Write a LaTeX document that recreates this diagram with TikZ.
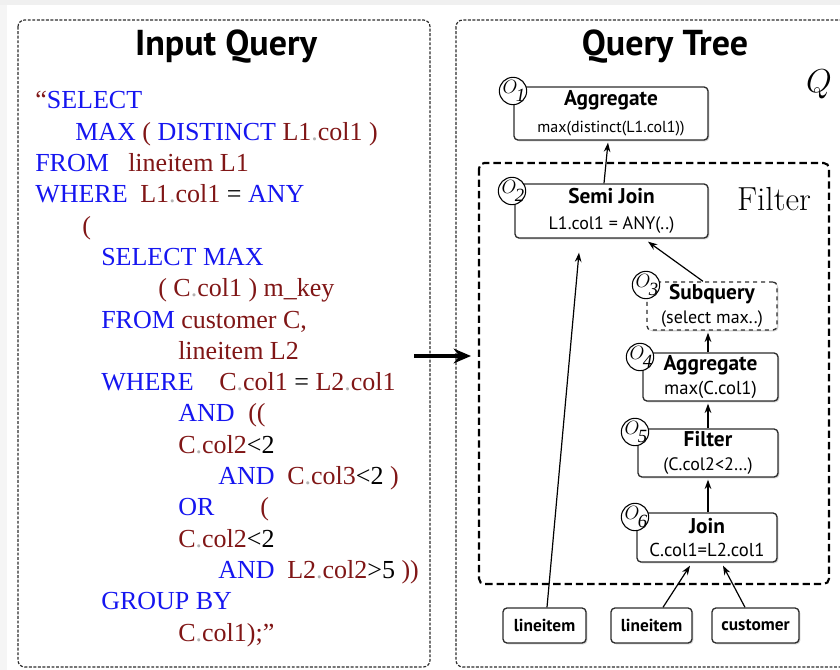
\documentclass[tikz,border=0pt]{standalone}
\usepackage{fontspec}
\usetikzlibrary{arrows.meta,shadows,calc}
\newfontfamily\sqlfont{Liberation Serif}
\newfontfamily\uifont{PT Sans}
\definecolor{kwblue}{RGB}{22,22,240}
\definecolor{idred}{RGB}{128,22,22}
\definecolor{frame}{RGB}{45,45,45}
\newcommand\kw[1]{\textcolor{kwblue}{#1}}
\newcommand\vr[1]{\textcolor{idred}{#1}}
\newcommand\sqldot{\textcolor{black!30}{.}}
\newcommand\optitle[1]{\textbf{\fontsize{16}{19}\selectfont #1}}

\tikzset{
  sql/.style={anchor=base west, inner sep=0pt, font=\sqlfont\fontsize{19.5}{22}\selectfont},
  panel/.style={draw=frame, line width=0.9pt, dash pattern=on 2.2pt off 1.2pt, rounded corners=5pt},
  filterbox/.style={draw=black, line width=1.6pt, dash pattern=on 5.5pt off 3pt, rounded corners=4pt},
  opbox/.style={draw=frame, line width=1pt, rounded corners=3pt, fill=white, align=center,
    inner sep=0pt, drop shadow={shadow xshift=1pt, shadow yshift=-1pt, opacity=0.3, fill=black!60}},
  bigop/.style={opbox, font=\uifont\fontsize{#1}{20}\selectfont},
  smallop/.style={opbox, font=\uifont\fontsize{#1}{17.5}\selectfont},
  leafbox/.style={opbox, font=\uifont\bfseries\fontsize{13}{15}\selectfont},
  opcirc/.style={circle, draw=black, line width=0.8pt, fill=white, minimum size=20.5pt, inner sep=0pt},
  opletter/.style={inner sep=0pt, font=\fontsize{15.5}{17}\selectfont},
  opdigit/.style={inner sep=0pt, font=\sqlfont\itshape\fontsize{14}{16}\selectfont},
  arr/.style={line width=0.9pt, -{Stealth[length=7pt, width=5pt]}},
  heading/.style={font=\uifont\bfseries\fontsize{27}{30}\selectfont, inner sep=0pt}
}

\begin{document}
\begin{tikzpicture}[x=0.75pt, y=-0.75pt]
\useasboundingbox (0,0) rectangle (840,670);
\fill[white] (0,0) rectangle (840,670);
\fill[black!6] (0,0) rectangle (840,5);
\fill[black!4] (0,5) rectangle (7,670);

% two panels
\draw[panel] (18,20) rectangle (430,667);
\draw[panel] (456,20) rectangle (860,667);
\node[heading] (titleL) at (226,47) {Input Query};
\node[heading] (titleR) at (665,47) {Query Tree};

% ---------- SQL text ----------
\node[sql] (l0)  at (35,109)    {\vr{“}\kw{SELECT}};
\node[sql] (l1)  at (75,140.3)  {\kw{MAX} \vr{(} \kw{DISTINCT} \vr{L1\sqldot col1 )}};
\node[sql] (l2a) at (35,171.6)  {\kw{FROM}};
\node[sql] (l2b) at (128,171.6) {\vr{lineitem L1}};
\node[sql] (l3a) at (35,202.9)  {\kw{WHERE}};
\node[sql] (l3b) at (140,202.9) {\vr{L1\sqldot col1} = \kw{ANY}};
\node[sql] (l4)  at (82,234.2)  {\vr{(}};
\node[sql] (l5)  at (101,265.5) {\kw{SELECT MAX}};
\node[sql] (l6)  at (158,296.8) {\vr{( C\sqldot col1 ) m\_key}};
\node[sql] (l7a) at (101,328.1) {\kw{FROM}};
\node[sql] (l7b) at (181,328.1) {\vr{customer C,}};
\node[sql] (l8)  at (178,359.4) {\vr{lineitem L2}};
\node[sql] (l9a) at (101,390.7) {\kw{WHERE}};
\node[sql] (l9b) at (219,390.7) {\vr{C\sqldot col1} = \vr{L2\sqldot col1}};
\node[sql] (l10a) at (178,422)  {\kw{AND}};
\node[sql] (l10b) at (248,422)  {\vr{((}};
\node[sql] (l11) at (178,453.3) {\vr{C\sqldot col2}<2};
\node[sql] (l12a) at (218,484.6) {\kw{AND}};
\node[sql] (l12b) at (287,484.6) {\vr{C\sqldot col3}<2 \vr{)}};
\node[sql] (l13a) at (178,515.9) {\kw{OR}};
\node[sql] (l13b) at (260,515.9) {\vr{(}};
\node[sql] (l14) at (178,547.2) {\vr{C\sqldot col2}<2};
\node[sql] (l15a) at (218,578.5) {\kw{AND}};
\node[sql] (l15b) at (287,578.5) {\vr{L2\sqldot col2}>5 \vr{))}};
\node[sql] (l16) at (101,609.8) {\kw{GROUP BY}};
\node[sql] (l17) at (178,641.1) {\vr{C\sqldot col1);”}};

% arrow from the query to the tree
\coordinate (qa) at (414,356);
\coordinate (qb) at (471,356);
\draw[line width=2.6pt, -{Stealth[length=13pt, width=11pt]}] (qa) -- (qb);

% ---------- query tree ----------
\draw[filterbox] (479,163) rectangle (829,584);
\node[inner sep=0pt, font=\fontsize{25}{28}\selectfont] (filterlbl) at (774,199) {Filter};
\node[inner sep=0pt, font=\fontsize{25}{28}\selectfont] (qlbl) at (819,84) {$Q$};

\node[bigop=12, minimum width=194*0.75pt, minimum height=53*0.75pt] (agg1) at (611,113.5)
  {\optitle{Aggregate}\\max(distinct(L1.col1))};
\node[bigop=13.5, minimum width=193*0.75pt, minimum height=54*0.75pt] (semi) at (611.5,211)
  {\optitle{Semi Join}\\L1.col1 = ANY(..)};
\node[smallop=13.5, dashed, minimum width=130*0.75pt, minimum height=48*0.75pt] (sub) at (712,306)
  {\optitle{Subquery}\\(select max..)};
\node[smallop=14, minimum width=135*0.75pt, minimum height=48*0.75pt] (agg4) at (710.5,377)
  {\optitle{Aggregate}\\max(C.col1)};
\node[smallop=13.5, minimum width=140*0.75pt, minimum height=48*0.75pt] (filt) at (708,453)
  {\optitle{Filter}\\(C.col2<2…)};
\node[smallop=14, minimum width=140*0.75pt, minimum height=49*0.75pt] (join) at (707,537.5)
  {\optitle{Join}\\C.col1=L2.col1};

\node[leafbox, minimum width=83*0.75pt, minimum height=35*0.75pt] (leafA) at (544.5,625.5) {lineitem};
\node[leafbox, minimum width=81*0.75pt, minimum height=35*0.75pt] (leafB) at (651.5,625.5) {lineitem};
\node[leafbox, minimum width=87*0.75pt, minimum height=35*0.75pt] (leafC) at (755.5,625.5) {customer};

% operator numbers: an italic O with its index set low on the right
\foreach \n/\px/\py in {1/513/91, 2/512/191, 3/646/285, 4/640/357, 5/635/432, 6/635/517}{
  \node[opcirc] (c\n) at (\px,\py) {};
  \node[opletter] (o\n) at ($(c\n)+(-3,-4)$) {$O$};
  \node[opdigit] (d\n) at ($(c\n)+(7.5,4.5)$) {\n};
}

% data flow
\draw[arr] ($(semi.north)+(-7.5,0)$) -- ($(agg1.south)+(-3,2)$);
\draw[arr] ($(leafA.north)+(2.5,0)$) -- ($(semi.south)+(-32.5,14)$);
\draw[arr] ($(sub.north)+(-9,0)$) -- ($(semi.south)+(36.5,3)$);
\draw[arr] ($(agg4.north)+(-2.5,0)$) -- ($(sub.south)+(-4,2)$);
\draw[arr] (filt.north) -- ($(agg4.south)+(-2.5,2)$);
\draw[arr] ($(join.north)+(1,0)$) -- ($(filt.south)+(0,2)$);
\draw[arr] ($(leafB.north)+(11.5,0)$) -- ($(join.south)+(-17,3)$);
\draw[arr] ($(leafC.north)+(-10.5,0)$) -- ($(join.south)+(16,3)$);
\end{tikzpicture}
\end{document}
